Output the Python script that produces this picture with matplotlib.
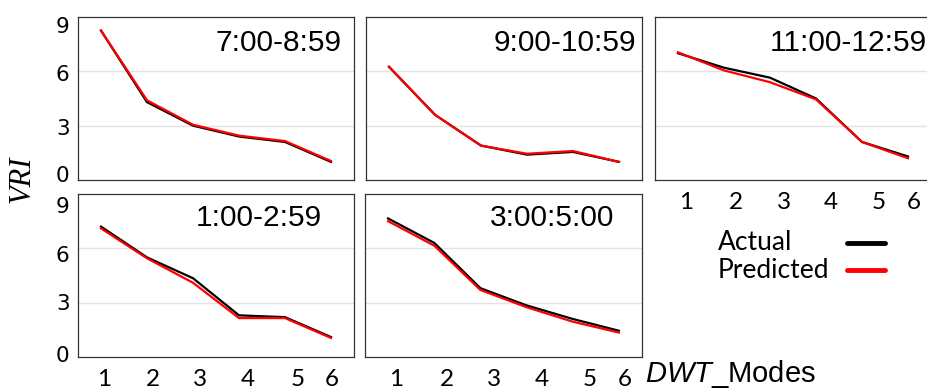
import numpy as np
import matplotlib
matplotlib.use("Agg")
from matplotlib import pyplot as plt
from matplotlib.lines import Line2D

plt.rcParams['mathtext.fontset'] = 'custom'
plt.rcParams['mathtext.it'] = 'Liberation Sans:italic'
plt.rcParams['mathtext.rm'] = 'Liberation Sans'

##### data #####
modes = [1, 2, 3, 4, 5, 6]
periods = ['7:00-8:59', '9:00-10:59', '11:00-12:59', '1:00-2:59', '3:00:5:00']
actual_1 = [8.25, 4.3, 3.0, 2.4, 2.1, 1.0]
pred_1 = [8.25, 4.4, 3.05, 2.45, 2.15, 1.05]
actual_2 = [6.25, 3.6, 1.9, 1.4, 1.55, 1.0]
pred_2 = [6.25, 3.6, 1.9, 1.45, 1.6, 1.0]
actual_3 = [7.0, 6.2, 5.65, 4.5, 2.1, 1.3]
pred_3 = [7.05, 6.05, 5.4, 4.45, 2.1, 1.2]
actual_4 = [7.2, 5.5, 4.35, 2.3, 2.2, 1.1]
pred_4 = [7.1, 5.45, 4.1, 2.15, 2.15, 1.05]
actual_5 = [7.65, 6.3, 3.8, 2.85, 2.1, 1.45]
pred_5 = [7.5, 6.15, 3.7, 2.75, 1.95, 1.35]
actual = [actual_1, actual_2, actual_3, actual_4, actual_5]
pred = [pred_1, pred_2, pred_3, pred_4, pred_5]
yticks = [0, 3, 6, 9]

##### layout (pixels of a 927x390 canvas) #####
W, H = 927.0, 390.0
boxes = [(78, 17, 276), (366, 17, 276), (655, 17, 276),
         (78, 194, 276), (365, 194, 277)]  # left, top, width
box_h = 163
# hand placed tick labels of the original (shift in data units)
xlab_shift = {2: [0.18, 0.27, 0.3, 0.32, 0.36, 0.13],
              3: [0.07, 0.13, 0.15, 0.2, 0.28, 0.02],
              4: [0.18, 0.27, 0.3, 0.32, 0.36, 0.13]}
ylab_pos = {0: [0.33, 2.95, 5.9, 8.54],
            3: [0.16, 3.05, 5.67, 8.4]}
# title placement: x (axes frac), y, ha
title_pos = [(0.953, 0.84, 'right'), (0.978, 0.84, 'right'), (0.417, 0.84, 'left'),
             (0.884, 0.853, 'right'), (0.899, 0.85, 'right')]

fig = plt.figure(figsize=(9.27, 3.9), dpi=100)

for i in range(5):
    l, t, w = boxes[i]
    ax = fig.add_axes([l / W, 1 - (t + box_h) / H, w / W, box_h / H])
    ax.set_xlim(0.5, 6.5)
    ax.set_ylim(0, 9)
    for g in [3, 6]:
        ax.axhline(g, color='#e3e3e3', lw=1.0, zorder=0)
    ax.plot(modes, actual[i], color='black', lw=1.6, zorder=2)
    ax.plot(modes, pred[i], color='#ff0000', lw=1.6, zorder=3)
    for s in ax.spines.values():
        s.set_color('#333333')
        s.set_linewidth(0.9)
    tx, ty, ha = title_pos[i]
    ax.text(tx, ty, periods[i], transform=ax.transAxes, ha=ha, va='center',
            fontsize=21.5, family='Liberation Sans', clip_on=False)
    ax.tick_params(length=0)
    # x tick labels only on the bottom row + panel 3
    if i in xlab_shift:
        ax.set_xticks(np.array(modes) + np.array(xlab_shift[i]))
        ax.set_xticklabels([str(m) for m in modes], fontsize=17.5, family='Lato')
        ax.tick_params(axis='x', pad=8.5)
    else:
        ax.set_xticks([])
    if i in ylab_pos:
        ax.set_yticks(ylab_pos[i])
        ax.set_yticklabels([str(v) for v in yticks], fontsize=15.5, family='DejaVu Sans')
        ax.tick_params(axis='y', pad=6)
    else:
        ax.set_yticks([])

##### axis labels #####
fig.text(22 / W, 1 - 179 / H, 'VRI', rotation=90, ha='center', va='center',
         fontsize=22, family='Liberation Serif', style='italic')
fig.text(645 / W, 1 - 374 / H, r'$\mathit{DWT}$_Modes', ha='left', va='center',
         fontsize=21, family='Liberation Sans')

##### legend #####
fig.text(718 / W, 1 - 243 / H, 'Actual', ha='left', va='center', fontsize=19, family='Lato')
fig.text(718 / W, 1 - 270 / H, 'Predicted', ha='left', va='center', fontsize=19, family='Lato')
fig.add_artist(Line2D([847 / W, 885 / W], [1 - 243 / H, 1 - 243 / H], color='black',
                      lw=3.5, solid_capstyle='round', transform=fig.transFigure))
fig.add_artist(Line2D([847 / W, 885 / W], [1 - 270 / H, 1 - 270 / H], color='#ff0000',
                      lw=3.5, solid_capstyle='round', transform=fig.transFigure))

fig.savefig('out.png', dpi=100)
